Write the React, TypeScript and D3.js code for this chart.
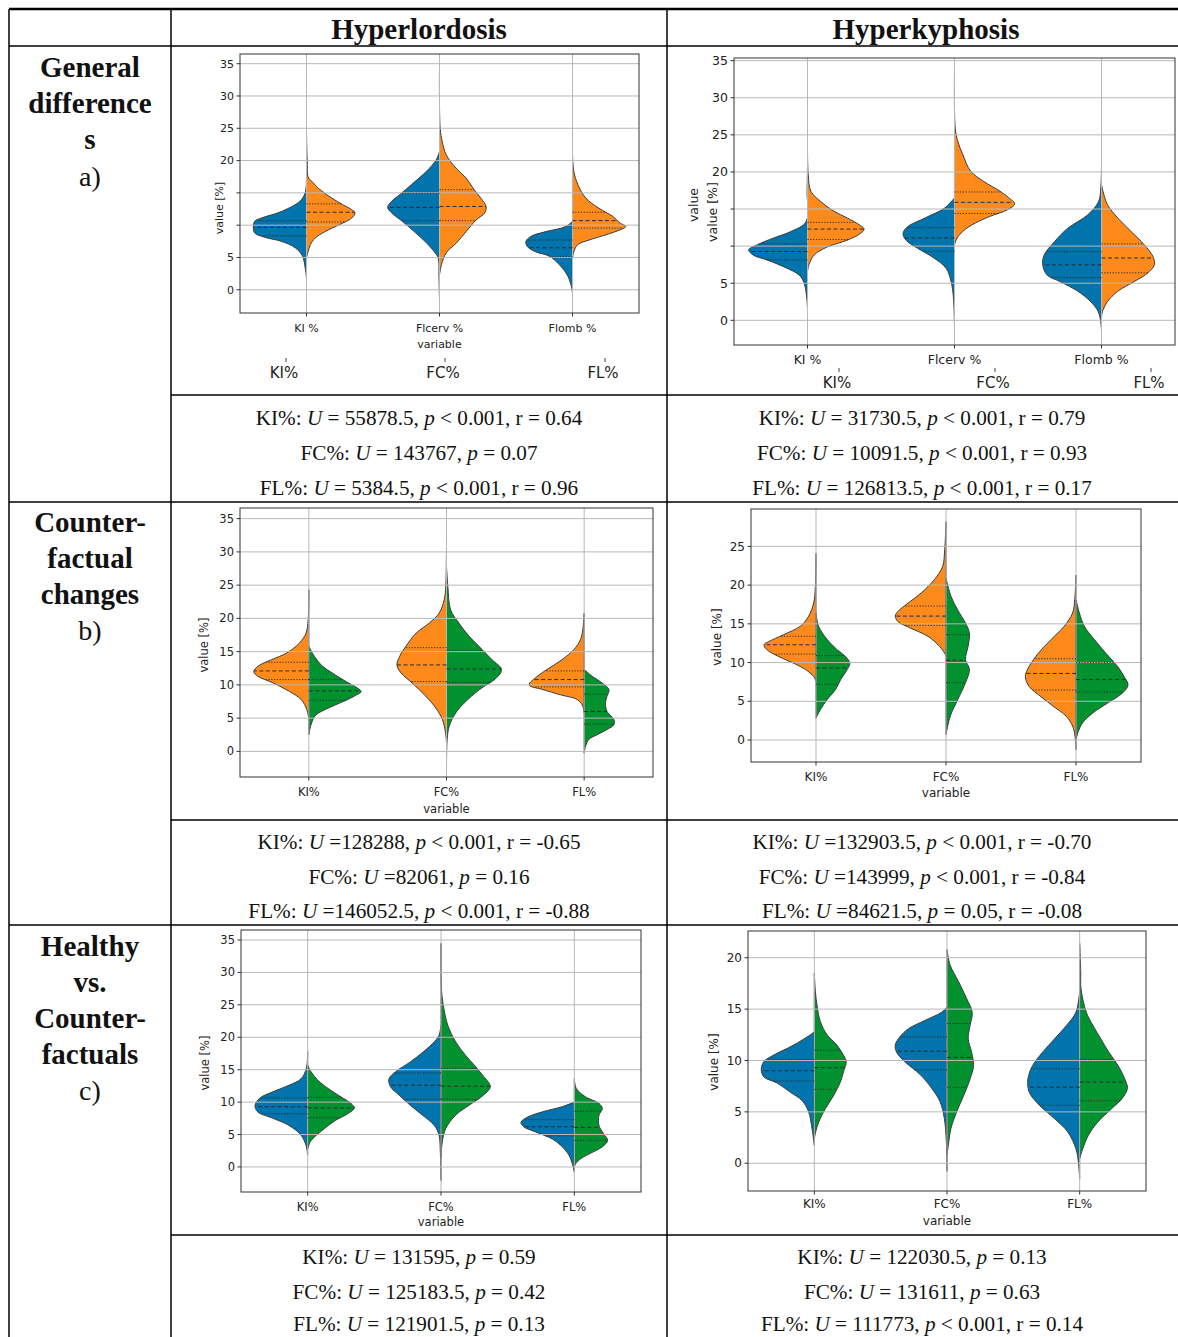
import * as d3 from "d3";

type Prof = [number, number][];

const BLUE = "#0173ad";
const ORANGE = "#fd8a1a";
const GREEN = "#01922f";

const rawLabels = ["KI %", "Flcerv %", "Flomb %"];
const shortLabels = ["KI%", "FC%", "FL%"];
const ticks35 = [0, 5, 10, 15, 20, 25, 30, 35];
const ticks25 = [0, 5, 10, 15, 20, 25];
const ticks20 = [0, 5, 10, 15, 20];

const columnTitles = ["Hyperlordosis", "Hyperkyphosis"];
const rowTitles = [
  { words: ["General", "difference", "s"], tag: "a)" },
  { words: ["Counter-", "factual", "changes"], tag: "b)" },
  { words: ["Healthy", "vs.", "Counter-", "factuals"], tag: "c)" },
];

// [label, U part, p part, r]
const statsA_L = [["KI%", "= 55878.5", "< 0.001", "0.64"], ["FC%", "= 143767", "= 0.07", ""], ["FL%", "= 5384.5", "< 0.001", "0.96"]];
const statsA_R = [["KI%", "= 31730.5", "< 0.001", "0.79"], ["FC%", "= 10091.5", "< 0.001", "0.93"], ["FL%", "= 126813.5", "< 0.001", "0.17"]];
const statsB_L = [["KI%", "=128288", "< 0.001", "-0.65"], ["FC%", "=82061", "= 0.16", ""], ["FL%", "=146052.5", "< 0.001", "-0.88"]];
const statsB_R = [["KI%", "=132903.5", "< 0.001", "-0.70"], ["FC%", "=143999", "< 0.001", "-0.84"], ["FL%", "=84621.5", "= 0.05", "-0.08"]];
const statsC_L = [["KI%", "= 131595", "= 0.59", ""], ["FC%", "= 125183.5", "= 0.42", ""], ["FL%", "= 121901.5", "= 0.13", ""]];
const statsC_R = [["KI%", "= 122030.5", "= 0.13", ""], ["FC%", "= 131611", "= 0.63", ""], ["FL%", "= 111773", "< 0.001", "0.14"]];

// violin half profiles: [value, half width in category units], top tail -> bottom tail
const hlGenBlue: Prof[] = [
  [[17.3, 0], [15, 0.01], [13.7, 0.05], [12.1, 0.19], [11.1, 0.34], [10.6, 0.39], [9.8, 0.4], [8.8, 0.39], [8.1, 0.31], [7.5, 0.19], [6.5, 0.085], [5.2, 0.03], [3.4, 0.01], [1.8, 0]],
  [[21.4, 0], [20.1, 0.025], [18.3, 0.1], [16.3, 0.21], [14.7, 0.3], [13.7, 0.36], [12.75, 0.39], [11.9, 0.36], [10.6, 0.28], [9.0, 0.19], [7.5, 0.11], [5.9, 0.04], [4.9, 0.01], [2, 0.004], [-1.8, 0]],
  [[10.6, 0], [9.8, 0.05], [9.0, 0.2], [8.3, 0.31], [7.5, 0.35], [6.7, 0.34], [5.9, 0.28], [5.2, 0.175], [3.9, 0.1], [2.3, 0.04], [0.8, 0.012], [-0.5, 0]],
];
const hlGenOrange: Prof[] = [
  [[24.3, 0], [20, 0.005], [17.3, 0.015], [16.8, 0.04], [15.7, 0.09], [14.2, 0.19], [13.2, 0.27], [12.4, 0.34], [11.9, 0.365], [11.1, 0.34], [10.1, 0.25], [9.0, 0.14], [8.0, 0.065], [7.0, 0.03], [5.9, 0.012], [4.9, 0]],
  [[34.6, 0], [25, 0.005], [23, 0.02], [20.9, 0.05], [18.8, 0.125], [17.3, 0.2], [15.5, 0.26], [14.2, 0.31], [12.9, 0.35], [11.9, 0.34], [10.8, 0.275], [9.0, 0.2], [7.2, 0.125], [5.7, 0.05], [3.9, 0.015], [2.3, 0]],
  [[20.9, 0], [18.3, 0.01], [16.3, 0.04], [14.2, 0.1], [12.6, 0.2], [11.4, 0.3], [10.3, 0.36], [9.8, 0.4], [9.3, 0.36], [8.5, 0.25], [7.7, 0.125], [7.0, 0.04], [5.9, 0.01], [4.9, 0]],
];
const hlGenBlueQ = [[8.35, 9.65, 10.7], [10.7, 12.75, 14.9], [5.1, 6.5, 7.7]];
const hlGenOrangeQ = [[10.5, 12.0, 13.3], [10.7, 12.9, 15.5], [9.55, 10.7, 12.0]];

const hkGenBlue: Prof[] = [
  [[21.0, 0], [17.4, 0.003], [13.3, 0.01], [12.0, 0.11], [11.1, 0.23], [10.2, 0.34], [9.5, 0.4], [8.8, 0.37], [8.1, 0.27], [7.2, 0.16], [6.1, 0.057], [5.0, 0.023], [3.0, 0.005], [1.6, 0]],
  [[16.5, 0], [15.1, 0.07], [13.8, 0.2], [12.6, 0.32], [11.7, 0.35], [10.8, 0.33], [9.7, 0.25], [8.4, 0.14], [7.0, 0.057], [5.2, 0.023], [3.0, 0.007], [-1.1, 0]],
  [[21.4, 0], [17.8, 0.005], [16.0, 0.02], [14.2, 0.095], [12.4, 0.23], [10.6, 0.32], [8.8, 0.39], [7.5, 0.4], [6.1, 0.37], [5.2, 0.28], [3.9, 0.16], [2.5, 0.073], [1.2, 0.023], [-0.2, 0.005], [-1.5, 0]],
];
const hkGenOrange: Prof[] = [
  [[24.1, 0], [19.6, 0.005], [17.4, 0.023], [16.0, 0.09], [14.7, 0.18], [13.8, 0.27], [12.9, 0.35], [12.3, 0.385], [11.7, 0.36], [10.8, 0.27], [9.9, 0.136], [8.8, 0.045], [7.5, 0.01], [6.6, 0]],
  [[33.6, 0], [25.9, 0.005], [24.1, 0.023], [22.3, 0.057], [20.1, 0.11], [18.7, 0.2], [17.4, 0.31], [16.5, 0.37], [15.7, 0.41], [14.9, 0.36], [14.0, 0.24], [13.1, 0.14], [12.0, 0.057], [11.1, 0.018], [10.2, 0]],
  [[18.3, 0], [17.4, 0.01], [15.6, 0.04], [13.8, 0.11], [12.0, 0.2], [10.2, 0.29], [8.6, 0.35], [7.5, 0.36], [6.3, 0.31], [5.2, 0.22], [3.9, 0.11], [2.5, 0.04], [1.2, 0.007], [0.5, 0]],
];
const hkGenBlueQ = [[8.14, 9.27, 10.3], [9.3, 11.1, 12.5], [5.76, 7.47, 9.27]];
const hkGenOrangeQ = [[10.9, 12.3, 13.2], [14.4, 15.9, 17.3], [6.4, 8.4, 10.3]];

const hlCfOrange: Prof[] = [
  [[24.3, 0], [19.8, 0.005], [17.8, 0.02], [16.3, 0.068], [14.8, 0.16], [13.8, 0.27], [12.8, 0.37], [12.0, 0.4], [11.3, 0.37], [10.3, 0.26], [9.0, 0.14], [7.8, 0.056], [6.3, 0.015], [4.8, 0]],
  [[34.6, 0], [25, 0.005], [22.8, 0.017], [20.8, 0.053], [19.3, 0.125], [17.8, 0.22], [15.8, 0.295], [14.3, 0.34], [13.0, 0.36], [11.8, 0.33], [10.3, 0.25], [8.3, 0.15], [6.5, 0.077], [4.8, 0.03], [2.8, 0.007], [1.3, 0]],
  [[20.8, 0], [18.3, 0.01], [16.8, 0.027], [15.3, 0.075], [13.8, 0.16], [12.5, 0.256], [11.3, 0.34], [10.0, 0.4], [9.3, 0.3], [8.5, 0.17], [7.8, 0.05], [6.8, 0.01], [5.8, 0]],
];
const hlCfGreen: Prof[] = [
  [[15.8, 0], [14.3, 0.04], [12.8, 0.1], [11.8, 0.17], [10.5, 0.27], [9.5, 0.355], [9.0, 0.38], [8.3, 0.33], [7.5, 0.25], [6.5, 0.14], [5.5, 0.053], [4.5, 0.024], [3.3, 0.007], [2.5, 0]],
  [[27.8, 0], [24.8, 0.01], [21.3, 0.03], [19.3, 0.09], [17.3, 0.165], [15.3, 0.26], [13.8, 0.33], [12.3, 0.4], [11.0, 0.36], [9.3, 0.24], [7.3, 0.13], [5.8, 0.068], [3.8, 0.02], [1.8, 0.005], [-2.0, 0]],
  [[12.3, 0], [11.3, 0.058], [10.3, 0.13], [9.3, 0.18], [8.3, 0.166], [7.3, 0.155], [6.0, 0.166], [4.8, 0.216], [4.0, 0.216], [3.3, 0.166], [2.5, 0.094], [1.8, 0.034], [0.75, 0.01], [-0.25, 0]],
];
const hlCfOrangeQ = [[10.8, 12.1, 13.4], [10.5, 13.0, 15.6], [9.7, 10.8, 12.1]];
const hlCfGreenQ = [[7.7, 9.1, 10.8], [10.4, 12.4, 15.2], [4.1, 6.0, 8.6]];

const hkCfOrange: Prof[] = [
  [[24.1, 0], [19.8, 0.005], [17.7, 0.018], [16.0, 0.056], [14.7, 0.12], [13.6, 0.25], [12.7, 0.364], [12.3, 0.4], [11.7, 0.38], [10.8, 0.29], [9.9, 0.17], [9.1, 0.08], [8.2, 0.018], [7.6, 0]],
  [[28.2, 0], [24.6, 0.01], [22.4, 0.026], [20.7, 0.09], [19.0, 0.19], [17.7, 0.29], [16.6, 0.37], [16.0, 0.39], [15.3, 0.37], [14.5, 0.28], [13.4, 0.14], [12.1, 0.05], [11.2, 0.01], [10.8, 0]],
  [[21.3, 0], [18.1, 0.01], [16.4, 0.026], [14.7, 0.09], [13.0, 0.19], [11.2, 0.29], [9.5, 0.36], [8.2, 0.39], [6.9, 0.36], [5.6, 0.27], [4.3, 0.17], [3.1, 0.077], [1.8, 0.026], [0.5, 0.008], [-1.25, 0]],
];
const hkCfGreen: Prof[] = [
  [[16.4, 0], [14.7, 0.02], [13.0, 0.085], [11.7, 0.16], [10.8, 0.226], [9.9, 0.26], [9.1, 0.24], [7.8, 0.19], [6.5, 0.15], [5.2, 0.085], [3.9, 0.033], [2.8, 0]],
  [[20.9, 0], [18.5, 0.04], [16.8, 0.09], [15.1, 0.15], [13.8, 0.18], [12.1, 0.17], [10.4, 0.15], [9.1, 0.18], [7.4, 0.15], [5.2, 0.09], [3.1, 0.033], [0.7, 0]],
  [[18.1, 0], [16.4, 0.026], [14.7, 0.064], [13.0, 0.14], [11.2, 0.23], [9.5, 0.32], [8.2, 0.37], [7.1, 0.4], [6.1, 0.36], [4.8, 0.246], [3.5, 0.13], [2.2, 0.05], [1.1, 0.018], [0.04, 0]],
];
const hkCfOrangeQ = [[11.1, 12.3, 13.4], [14.8, 16.0, 17.3], [6.45, 8.6, 10.5]];
const hkCfGreenQ = [[7.2, 9.3, 10.9], [7.4, 10.3, 13.6], [6.2, 7.8, 10.0]];

const hlHcBlue: Prof[] = [
  [[17.8, 0], [15.2, 0.01], [13.6, 0.05], [12.6, 0.14], [11.6, 0.26], [10.6, 0.36], [9.5, 0.395], [8.5, 0.375], [7.5, 0.26], [6.4, 0.14], [4.9, 0.05], [3.3, 0.012], [1.8, 0]],
  [[21.9, 0], [20.3, 0.015], [19.3, 0.05], [17.8, 0.13], [16.2, 0.23], [14.7, 0.34], [13.6, 0.39], [12.4, 0.38], [11.1, 0.315], [9.5, 0.23], [8.0, 0.14], [6.4, 0.05], [4.9, 0.015], [2.3, 0.005], [-2.1, 0]],
  [[10.0, 0], [9.3, 0.09], [8.5, 0.24], [7.7, 0.35], [6.9, 0.4], [6.2, 0.38], [5.4, 0.29], [4.3, 0.165], [3.1, 0.09], [1.8, 0.04], [0.5, 0.015], [-0.8, 0]],
];
const hlHcGreen: Prof[] = [
  [[15.7, 0], [14.7, 0.025], [13.1, 0.09], [11.8, 0.175], [10.8, 0.25], [9.8, 0.325], [9.1, 0.35], [8.2, 0.3], [7.2, 0.21], [5.9, 0.125], [4.6, 0.05], [3.9, 0.02], [2.8, 0]],
  [[34.5, 0], [27.0, 0.005], [24.4, 0.022], [21.9, 0.05], [19.3, 0.11], [17.2, 0.185], [15.7, 0.25], [14.2, 0.31], [12.4, 0.37], [11.1, 0.32], [9.5, 0.21], [8.0, 0.11], [5.9, 0.035], [3.9, 0.01], [1.3, 0]],
  [[13.6, 0], [12.1, 0.015], [10.8, 0.085], [9.8, 0.185], [9.0, 0.21], [8.0, 0.185], [6.4, 0.185], [5.1, 0.22], [4.1, 0.25], [3.1, 0.21], [2.1, 0.12], [1.3, 0.05], [0.5, 0.01], [0, 0]],
];
const hlHcBlueQ = [[8.2, 9.3, 10.65], [10.45, 12.6, 14.5], [4.8, 6.2, 7.3]];
const hlHcGreenQ = [[7.6, 9.1, 10.75], [10.45, 12.45, 15.2], [4.1, 6.1, 8.6]];

const hkHcBlue: Prof[] = [
  [[12.8, 0], [12.5, 0.03], [11.5, 0.156], [10.5, 0.31], [9.9, 0.38], [9.1, 0.4], [8.4, 0.38], [7.8, 0.28], [6.9, 0.18], [6.1, 0.093], [5.0, 0.043], [3.4, 0.018], [1.75, 0]],
  [[15.2, 0], [14.7, 0.04], [13.9, 0.166], [13.1, 0.29], [12.3, 0.355], [11.5, 0.39], [10.8, 0.38], [9.9, 0.32], [8.6, 0.2], [7.3, 0.116], [6.0, 0.053], [4.35, 0.02], [2.1, 0.005], [-0.8, 0]],
  [[16.7, 0], [14.7, 0.028], [13.4, 0.1], [12.1, 0.19], [10.8, 0.28], [9.5, 0.355], [8.2, 0.39], [6.9, 0.38], [5.6, 0.3], [4.35, 0.19], [3.05, 0.09], [1.4, 0.028], [0.13, 0.01], [-1.5, 0]],
];
const hkHcGreen: Prof[] = [
  [[18.5, 0], [16.7, 0.008], [15.4, 0.02], [13.8, 0.045], [12.5, 0.096], [11.5, 0.17], [10.5, 0.22], [9.9, 0.24], [8.9, 0.22], [7.9, 0.196], [6.6, 0.146], [5.3, 0.083], [4.0, 0.033], [3.05, 0.01], [2.4, 0]],
  [[20.8, 0], [19.3, 0.023], [17.7, 0.086], [16.0, 0.149], [14.7, 0.19], [13.4, 0.174], [12.1, 0.16], [10.8, 0.186], [9.5, 0.2], [8.2, 0.174], [6.9, 0.136], [5.0, 0.073], [3.4, 0.03], [1.75, 0.01], [0.8, 0]],
  [[21.4, 0], [18.6, 0.008], [17.0, 0.01], [14.7, 0.05], [13.4, 0.1], [12.1, 0.16], [10.8, 0.22], [9.5, 0.29], [8.2, 0.34], [7.3, 0.36], [6.3, 0.32], [5.3, 0.24], [4.0, 0.136], [2.7, 0.065], [1.4, 0.023], [0.45, 0]],
];
const hkHcBlueQ = [[8.0, 9.0, 10.1], [9.1, 10.9, 12.3], [5.65, 7.4, 9.2]];
const hkHcGreenQ = [[7.2, 9.3, 11.0], [7.4, 10.3, 13.6], [6.1, 7.9, 10.1]];

const panels = [
  { frame: [240, 639, 54, 313], domain: [-3.6, 36.5], ticks: ticks35, hidden: [10, 15], fs: 11, xLabels: rawLabels, labelY: 328, varY: 344,
    yLabels: [{ text: "value [%]", x: 219, y: 208 }], colors: [BLUE, ORANGE], left: hlGenBlue, right: hlGenOrange, qL: hlGenBlueQ, qR: hlGenOrangeQ,
    overlay: { y: 373, tickY: 360, xs: [284, 443, 603] } },
  { frame: [734, 1175, 58, 345], domain: [-3.33, 35.36], ticks: ticks35, hidden: [10, 15], fs: 12.5, xLabels: rawLabels, labelY: 360, varY: 0,
    yLabels: [{ text: "value", x: 694, y: 205 }, { text: "value [%]", x: 713, y: 212 }], colors: [BLUE, ORANGE], left: hkGenBlue, right: hkGenOrange, qL: hkGenBlueQ, qR: hkGenOrangeQ,
    overlay: { y: 383, tickY: 370, xs: [837, 993, 1149] } },
  { frame: [240, 653, 508, 777], domain: [-3.85, 36.6], ticks: ticks35, hidden: [], fs: 11.5, xLabels: shortLabels, labelY: 792, varY: 809,
    yLabels: [{ text: "value [%]", x: 204, y: 645 }], colors: [ORANGE, GREEN], left: hlCfOrange, right: hlCfGreen, qL: hlCfOrangeQ, qR: hlCfGreenQ, overlay: null },
  { frame: [751, 1141, 509, 762], domain: [-2.84, 29.83], ticks: ticks25, hidden: [], fs: 12, xLabels: shortLabels, labelY: 777, varY: 793,
    yLabels: [{ text: "value [%]", x: 717, y: 637 }], colors: [ORANGE, GREEN], left: hkCfOrange, right: hkCfGreen, qL: hkCfOrangeQ, qR: hkCfGreenQ, overlay: null },
  { frame: [241, 641, 930, 1192], domain: [-3.86, 36.54], ticks: ticks35, hidden: [], fs: 11.5, xLabels: shortLabels, labelY: 1207, varY: 1222,
    yLabels: [{ text: "value [%]", x: 205, y: 1063 }], colors: [BLUE, GREEN], left: hlHcBlue, right: hlHcGreen, qL: hlHcBlueQ, qR: hlHcGreenQ, overlay: null },
  { frame: [748, 1146, 931, 1191], domain: [-2.7, 22.6], ticks: ticks20, hidden: [], fs: 12, xLabels: shortLabels, labelY: 1204, varY: 1221,
    yLabels: [{ text: "value [%]", x: 714, y: 1062 }], colors: [BLUE, GREEN], left: hkHcBlue, right: hkHcGreen, qL: hkHcBlueQ, qR: hkHcGreenQ, overlay: null },
];

const statBlocks = [
  { rows: statsA_L, cx: 419, ys: [418, 453, 488] },
  { rows: statsA_R, cx: 922, ys: [418, 453, 488] },
  { rows: statsB_L, cx: 419, ys: [842, 877, 911] },
  { rows: statsB_R, cx: 922, ys: [842, 877, 911] },
  { rows: statsC_L, cx: 419, ys: [1257, 1292, 1324] },
  { rows: statsC_R, cx: 922, ys: [1257, 1292, 1324] },
];

const sansFont = "'DejaVu Sans', sans-serif";
const serifFont = "'Liberation Serif', 'Times New Roman', serif";

// half width of a profile at a value (for the quartile lines)
function widthAt(prof: Prof, v: number) {
  for (let i = 0; i < prof.length - 1; i++) {
    const [a, wa] = prof[i];
    const [b, wb] = prof[i + 1];
    if (v <= a && v >= b) return wa + ((a - v) / (a - b)) * (wb - wa);
  }
  return 0;
}

function Panel({ p }: { p: any }) {
  const [x0, x1, y0, y1] = p.frame;
  const x = d3.scalePoint<string>().domain(p.xLabels).range([x0, x1]).padding(0.5);
  const step = x.step();
  const y = d3.scaleLinear().domain(p.domain).range([y1, y0]);
  const halfPath = (prof: Prof, cx: number, dir: number) =>
    d3.area<[number, number]>()
      .y((d) => y(d[0]))
      .x0(cx)
      .x1((d) => cx + dir * d[1] * step)
      .curve(d3.curveCatmullRom.alpha(0.5))(prof) || "";

  const sides = [
    { profs: p.left, qs: p.qL, dir: -1, color: p.colors[0] },
    { profs: p.right, qs: p.qR, dir: 1, color: p.colors[1] },
  ];

  return (
    <g>
      <rect x={x0} y={y0} width={x1 - x0} height={y1 - y0} fill="#fff" />
      {sides.map((s, si) =>
        s.profs.map((prof: Prof, ci: number) => (
          <path key={`v${si}${ci}`} d={halfPath(prof, x(p.xLabels[ci])!, s.dir)} fill={s.color} stroke="#3d3d3d" strokeWidth={1} strokeLinejoin="round" />
        ))
      )}
      {/* grid */}
      {p.ticks.map((t: number) => (
        <line key={`gy${t}`} x1={x0} x2={x1} y1={y(t)} y2={y(t)} stroke="#b8b8b8" strokeWidth={1} />
      ))}
      {p.xLabels.map((c: string) => (
        <line key={`gx${c}`} x1={x(c)} x2={x(c)} y1={y0} y2={y1} stroke="#b8b8b8" strokeWidth={1} />
      ))}
      {/* quartiles */}
      {sides.map((s, si) =>
        s.qs.map((q: number[], ci: number) => {
          const cx = x(p.xLabels[ci])!;
          return q.map((v, qi) => (
            <line key={`q${si}${ci}${qi}`} x1={cx} x2={cx + s.dir * widthAt(s.profs[ci], v) * step} y1={y(v)} y2={y(v)}
              stroke="#2e2e2e" strokeWidth={1} strokeDasharray={qi === 1 ? "4,2.5" : "1.2,1.6"} />
          ));
        })
      )}
      <rect x={x0} y={y0} width={x1 - x0} height={y1 - y0} fill="none" stroke="#333" strokeWidth={1} />
      {/* y axis */}
      {p.ticks.map((t: number) => (
        <g key={`ty${t}`}>
          <line x1={x0 - 3.5} x2={x0} y1={y(t)} y2={y(t)} stroke="#333" />
          {!p.hidden.includes(t) && (
            <text x={x0 - 6} y={y(t)} dy="0.35em" textAnchor="end" fontSize={p.fs} fontFamily={sansFont} fill="#222">{t}</text>
          )}
        </g>
      ))}
      {/* x axis */}
      {p.xLabels.map((c: string) => (
        <g key={`tx${c}`}>
          <line x1={x(c)} x2={x(c)} y1={y1} y2={y1 + 3.5} stroke="#333" />
          <text x={x(c)} y={p.labelY} dy="0.35em" textAnchor="middle" fontSize={p.fs} fontFamily={sansFont} fill="#222">{c}</text>
        </g>
      ))}
      {p.varY > 0 && (
        <text x={(x0 + x1) / 2} y={p.varY} dy="0.35em" textAnchor="middle" fontSize={p.fs} fontFamily={sansFont} fill="#222">variable</text>
      )}
      {p.yLabels.map((l: any) => (
        <text key={l.text} transform={`translate(${l.x},${l.y}) rotate(-90)`} dy="0.35em" textAnchor="middle" fontSize={p.fs} fontFamily={sansFont} fill="#222">{l.text}</text>
      ))}
      {p.overlay && shortLabels.map((c, i) => (
        <g key={`ov${c}`}>
          <line x1={p.overlay.xs[i] + 2} x2={p.overlay.xs[i] + 2} y1={p.overlay.tickY - 2} y2={p.overlay.tickY + 2} stroke="#444" />
          <text x={p.overlay.xs[i]} y={p.overlay.y} dy="0.35em" textAnchor="middle" fontSize={15} fontFamily={sansFont} fill="#222">{c}</text>
        </g>
      ))}
    </g>
  );
}

function StatLine({ row, cx, y }: { row: string[]; cx: number; y: number }) {
  const [lab, u, pv, r] = row;
  return (
    <text x={cx} y={y} dy="0.35em" textAnchor="middle" fontSize={21.2} fontFamily={serifFont} fill="#111">
      {`${lab}: `}
      <tspan fontStyle="italic">U</tspan>
      {` ${u}, `}
      <tspan fontStyle="italic">p</tspan>
      {` ${pv}`}
      {r ? `, r = ${r}` : ""}
    </text>
  );
}

export default function App() {
  const W = 1178;
  const H = 1337;
  const rowLabelY = [[67, 103, 139, 176], [522, 558, 594, 630], [946, 982, 1018, 1054, 1090]];
  return (
    <svg width={W} height={H} viewBox={`0 0 ${W} ${H}`} style={{ position: "absolute", left: 0, top: 0, background: "#fff" }}>
      <rect width={W} height={H} fill="#fff" />
      {panels.map((p, i) => <Panel key={i} p={p} />)}

      {/* table rules */}
      <g stroke="#000">
        <line x1={9} x2={W} y1={9} y2={9} strokeWidth={2.5} />
        <line x1={9} x2={W} y1={46} y2={46} strokeWidth={1.5} />
        <line x1={171} x2={W} y1={395} y2={395} strokeWidth={1.5} />
        <line x1={9} x2={W} y1={502} y2={502} strokeWidth={1.5} />
        <line x1={171} x2={W} y1={820} y2={820} strokeWidth={1.5} />
        <line x1={9} x2={W} y1={925} y2={925} strokeWidth={1.5} />
        <line x1={171} x2={W} y1={1235} y2={1235} strokeWidth={1.5} />
        <line x1={9} x2={9} y1={9} y2={H} strokeWidth={1.5} />
        <line x1={171} x2={171} y1={9} y2={H} strokeWidth={1.5} />
        <line x1={667} x2={667} y1={9} y2={H} strokeWidth={1.5} />
      </g>

      {columnTitles.map((t, i) => (
        <text key={t} x={i === 0 ? 419 : 926} y={29} dy="0.35em" textAnchor="middle" fontSize={29} fontWeight="bold" fontFamily={serifFont} fill="#111">{t}</text>
      ))}

      {rowTitles.map((r, ri) => (
        <g key={ri}>
          {r.words.map((w, wi) => (
            <text key={wi} x={90} y={rowLabelY[ri][wi]} dy="0.35em" textAnchor="middle" fontSize={29} fontWeight="bold" fontFamily={serifFont} fill="#111">{w}</text>
          ))}
          <text x={90} y={rowLabelY[ri][r.words.length]} dy="0.35em" textAnchor="middle" fontSize={28} fontFamily={serifFont} fill="#111">{r.tag}</text>
        </g>
      ))}

      {statBlocks.map((b, bi) =>
        b.rows.map((row, ri) => <StatLine key={`${bi}-${ri}`} row={row} cx={b.cx} y={b.ys[ri]} />)
      )}
    </svg>
  );
}
